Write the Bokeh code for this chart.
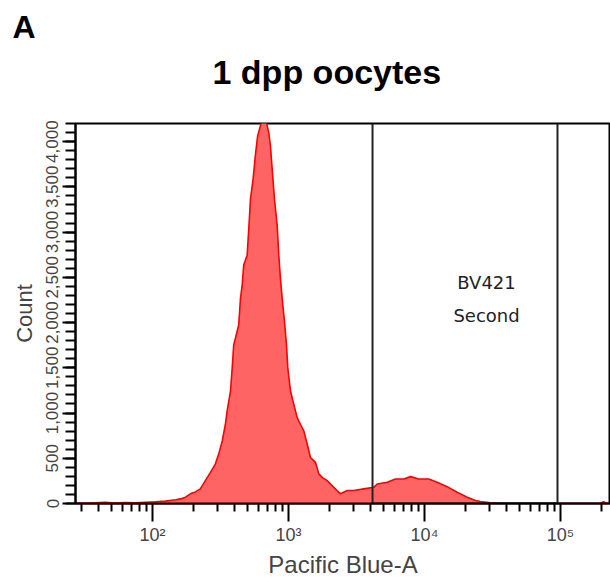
from bokeh.plotting import figure
from bokeh.models import Range1d, FixedTicker, Label, NumeralTickFormatter, Title
from bokeh.embed import file_html
from bokeh.resources import INLINE

# Histogram: Pacific Blue-A intensity (bin position) vs event count
intensity = [27, 32, 38, 45, 53, 63, 75, 89, 105, 125,
             148, 161, 175, 190, 207, 225, 245, 267, 290, 307,
             326, 344, 354, 375, 386, 396, 408, 431, 444, 457,
             469, 497, 511, 526, 550, 571, 594, 622, 640, 658,
             675, 689, 716, 737, 759, 789, 826, 849, 873, 899,
             935, 967, 989, 1035, 1095, 1159, 1225, 1297, 1373, 1452,
             1581, 1673, 1771, 1927, 2155, 2412, 2701, 3022, 3580, 4238,
             4490, 5320, 6120, 7050, 7890, 9080, 10760, 12400, 14680, 17400,
             20600, 23700, 25800, 30600, 36200, 60000, 100000, 150000, 195000,
             207000, 220000]
counts = [10, 0, 8, 12, 5, 10, 8, 14, 18, 26,
          41, 51, 70, 107, 128, 162, 253, 344, 436, 546,
          692, 876, 1022, 1243, 1499, 1756, 1829, 1976, 2268, 2416,
          2636, 2745, 3038, 3368, 3588, 3845, 4065, 4174, 4230, 4260,
          4240, 4210, 4102, 3955, 3698, 3368, 3075, 2745, 2488, 2268,
          2012, 1756, 1499, 1243, 1096, 949, 876, 802, 657, 509,
          454, 327, 289, 253, 179, 107, 143, 143, 162, 179,
          216, 235, 271, 271, 297, 271, 271, 235, 186, 124,
          70, 33, 22, 8, 0, 0, 0, 0, 0,
          20, 0]

gate_bounds = [4150, 95000]
gate_name = ["BV421", "Second"]

x_ticks = [100, 1000, 10000, 100000]
x_tick_labels = ["10\u00b2", "10\u00b3", "10\u2074", "10\u2075"]
x_minor = [m * d for d in [10, 100, 1000, 10000, 100000] for m in range(2, 10)]
y_ticks = [0, 500, 1000, 1500, 2000, 2500, 3000, 3500, 4000]
y_minor = list(range(0, 4201, 100))
y_max = 4200

p = figure(width=610, height=581, x_axis_type="log",
           x_range=Range1d(27.2, 233000), y_range=Range1d(0, y_max),
           output_backend="svg", toolbar_location=None,
           min_border_left=75, min_border_right=0, min_border_top=121,
           min_border_bottom=78)

p.grid.visible = False
p.background_fill_color = "white"
p.border_fill_color = "white"
p.outline_line_color = "black"
p.outline_line_width = 2

# titles: panel letter (outermost), chart title, then a thin spacer by the frame
p.title.text = "A"
p.title.text_font = "Liberation Sans"
p.title.text_font_style = "bold"
p.title.text_font_size = "32px"
p.title.text_color = "black"
p.title.align = "left"
p.title.offset = -63
p.title.standoff = 12
p.add_layout(Title(text=" ", text_font_size="1px", standoff=30), "above")
p.add_layout(Title(text="1 dpp oocytes", text_font="Liberation Sans",
                   text_font_style="bold", text_font_size="34px",
                   text_color="black", align="left", offset=137, standoff=0),
             "above")

# histogram
p.varea(x=intensity, y1=[0] * len(counts), y2=counts, fill_color="#ff6464")
p.line(x=intensity, y=counts, line_color="#ff0000", line_width=1.6)

# gate
p.line(x=[gate_bounds[0], gate_bounds[0], gate_bounds[1], gate_bounds[1]],
       y=[y_max, 0, 0, y_max], line_color="#222222", line_width=2)

# x axis
xa = p.xaxis[0]
xa.ticker = FixedTicker(ticks=x_ticks, minor_ticks=x_minor)
xa.major_label_overrides = {t: l for t, l in zip(x_ticks, x_tick_labels)}
xa.axis_line_width = 2
xa.major_tick_out = 18
xa.major_tick_in = 0
xa.minor_tick_out = 8
xa.minor_tick_in = 0
xa.major_tick_line_width = 2
xa.minor_tick_line_width = 2
xa.major_label_text_font = "Liberation Sans"
xa.major_label_text_font_size = "18px"
xa.major_label_standoff = 3
xa.axis_label = "Pacific Blue-A"
xa.axis_label_text_font = "Liberation Sans"
xa.axis_label_text_font_size = "24px"
xa.axis_label_text_font_style = "normal"
xa.axis_label_standoff = 3

# y axis
ya = p.yaxis[0]
ya.ticker = FixedTicker(ticks=y_ticks, minor_ticks=y_minor)
ya.formatter = NumeralTickFormatter(format="0,0")
ya.major_label_orientation = "parallel"
ya.axis_line_width = 2
ya.major_tick_out = 13
ya.major_tick_in = 0
ya.minor_tick_out = 10
ya.minor_tick_in = 0
ya.major_tick_line_width = 2
ya.minor_tick_line_width = 2
ya.major_label_text_font = "Liberation Sans"
ya.major_label_text_font_size = "17px"
ya.major_label_standoff = 4
ya.axis_label = "Count"
ya.axis_label_text_font = "Liberation Sans"
ya.axis_label_text_font_size = "22px"
ya.axis_label_text_font_style = "normal"
ya.axis_label_standoff = 7

# gate labels
for txt, cy in zip(gate_name, [282, 315]):
    p.add_layout(Label(x=486, y=cy, x_units="canvas", y_units="canvas",
                       text=txt, text_font="DejaVu Sans",
                       text_font_size="18px", text_align="center",
                       text_baseline="middle", text_color="#222222"))

open("out.html", "w").write(file_html(p, INLINE))
